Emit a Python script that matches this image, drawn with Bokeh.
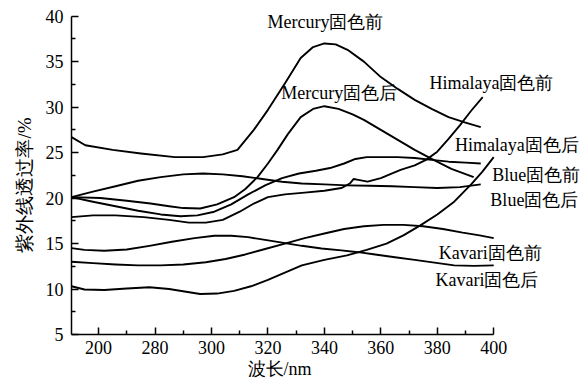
from bokeh.plotting import figure
from bokeh.models import Range1d, FixedTicker, Label, Title
from bokeh.embed import file_html
from bokeh.resources import INLINE

# ---------------- data ----------------
mercury_before_x = [250.4, 255.3, 265, 275, 287, 297, 304, 309.2, 315, 320, 326, 331.6, 336, 340, 344, 348.2,
                    354, 360, 366, 372, 378, 384, 390, 395.4]
mercury_before_y = [26.7, 25.8, 25.3, 24.9, 24.5, 24.5, 24.8, 25.3, 27.5, 29.7, 32.6, 35.4, 36.6, 37.0, 36.9, 36.3,
                    35.0, 33.3, 32.0, 30.8, 29.8, 28.9, 28.3, 27.8]

mercury_after_x = [250.4, 260.6, 270, 278.4, 285, 290, 296, 302, 308, 312, 316.3, 320, 323.4, 327, 331.6, 336,
                   340, 345, 350, 354, 360, 366, 372, 378, 385, 392.9]
mercury_after_y = [20.1, 20.0, 19.7, 19.4, 19.1, 18.9, 18.85, 19.3, 20.1, 21.0, 22.3, 23.8, 25.3, 27.0, 28.9, 29.8,
                   30.1, 29.8, 29.2, 28.6, 27.5, 26.4, 25.3, 24.3, 23.2, 22.3]

himalaya_before_x = [250.4, 258, 266, 276, 285, 292, 298, 304, 310, 315, 320, 326, 333, 340, 346, 349, 350.4,
                     352, 355.3, 360, 367, 372, 376, 380, 384, 388, 392, 396.1]
himalaya_before_y = [17.9, 18.1, 18.1, 17.9, 17.6, 17.3, 17.3, 17.6, 18.5, 19.4, 20.1, 20.4, 20.6, 20.8, 21.1,
                     21.6, 22.1, 22.0, 21.8, 22.2, 23.1, 23.6, 24.2, 25.1, 26.5, 28.0, 29.6, 31.1]

himalaya_after_x = [250.4, 255, 262, 270, 278, 285, 291, 296, 302, 308, 314, 320, 326, 332, 340, 348, 355, 362,
                    368, 374, 380, 386, 392, 396, 400]
himalaya_after_y = [10.3, 9.95, 9.9, 10.05, 10.2, 10.0, 9.7, 9.45, 9.5, 9.8, 10.3, 11.0, 11.8, 12.6, 13.2, 13.7,
                    14.3, 15.0, 15.9, 17.0, 18.2, 19.6, 21.5, 22.9, 24.5]

blue_before_x = [250.4, 258, 266, 274, 282, 289, 295, 301, 307, 313, 319, 325, 331, 337, 342, 347, 351, 355, 360,
                 366, 372, 378, 384, 390, 395.4]
blue_before_y = [20.1, 19.6, 19.1, 18.6, 18.2, 18.0, 18.1, 18.5, 19.3, 20.4, 21.4, 22.2, 22.7, 23.0, 23.3, 23.8,
                 24.3, 24.5, 24.5, 24.5, 24.4, 24.2, 24.0, 23.9, 23.8]

blue_after_x = [250.4, 258, 266, 274, 282, 290, 297, 304, 311, 318, 325, 332, 340, 348, 356, 364, 372, 380, 388,
                395.4]
blue_after_y = [20.1, 20.7, 21.3, 21.9, 22.3, 22.6, 22.7, 22.6, 22.4, 22.1, 21.8, 21.6, 21.5, 21.4, 21.35, 21.3,
                21.2, 21.1, 21.2, 21.5]

kavari_before_x = [250.4, 258, 266, 274, 282, 290, 298, 305, 312, 319, 326, 333, 340, 347, 354, 361, 368, 375,
                   382, 389, 395, 400]
kavari_before_y = [13.0, 12.85, 12.7, 12.6, 12.6, 12.7, 12.95, 13.3, 13.8, 14.4, 15.0, 15.6, 16.1, 16.6, 16.9,
                   17.05, 17.05, 16.9, 16.6, 16.2, 15.9, 15.6]

kavari_after_x = [250.4, 255, 262, 270, 278, 286, 294, 301, 307, 313, 319, 325, 332, 339, 346, 352, 358, 365, 372,
                  379, 386, 393, 400]
kavari_after_y = [14.5, 14.3, 14.2, 14.35, 14.75, 15.2, 15.6, 15.85, 15.85, 15.7, 15.4, 15.1, 14.75, 14.45, 14.25,
                  14.05, 13.8, 13.5, 13.2, 12.9, 12.6, 12.55, 12.6]

series_names = ["Mercury固色前", "Mercury固色后", "Himalaya固色前", "Himalaya固色后",
                "Blue固色前", "Blue固色后", "Kavari固色前", "Kavari固色后"]

x_tick_values = [260, 280, 300, 320, 340, 360, 380, 400]
x_tick_labels = ["200", "280", "300", "320", "340", "360", "380", "400"]
x_minor_ticks = [270, 290, 310, 330, 350, 370, 390]
y_tick_values = [5, 10, 15, 20, 25, 30, 35, 40]
y_minor_ticks = [7.5, 12.5, 17.5, 22.5, 27.5, 32.5, 37.5]

x_title = "波长/nm"
y_title = "紫外线透过率/%"

# label anchor positions (data coords), same order as series_names
label_x = [340.4, 345.3, 399.2, 408.2, 415.1, 414.4, 398.8, 397.6]
label_y = [39.36, 31.56, 32.66, 25.85, 22.55, 19.75, 13.99, 11.02]

# ---------------- plot ----------------
FONT = "Liberation Serif"

# frame extends right/up past the axes so annotation texts are not clipped;
# the axes themselves are limited with bounds
p = figure(width=581, height=381, output_backend="svg", toolbar_location=None,
           x_range=Range1d(250.4, 431.1), y_range=Range1d(5, 41.72),
           min_border_left=71, min_border_right=0, min_border_top=0, min_border_bottom=47)
p.outline_line_color = None
p.grid.visible = False
p.background_fill_color = "white"
p.border_fill_color = "white"

series = [
    (mercury_before_x, mercury_before_y),
    (mercury_after_x, mercury_after_y),
    (himalaya_before_x, himalaya_before_y),
    (himalaya_after_x, himalaya_after_y),
    (blue_before_x, blue_before_y),
    (blue_after_x, blue_after_y),
    (kavari_before_x, kavari_before_y),
    (kavari_after_x, kavari_after_y),
]
for xs, ys in series:
    p.line(xs, ys, line_color="black", line_width=1.9, line_join="round")

# axes
p.xaxis.ticker = FixedTicker(ticks=x_tick_values, minor_ticks=x_minor_ticks)
p.xaxis.major_label_overrides = {v: l for v, l in zip(x_tick_values, x_tick_labels)}
p.xaxis.bounds = (250.4, 400)
p.yaxis.ticker = FixedTicker(ticks=y_tick_values, minor_ticks=y_minor_ticks)
p.yaxis.bounds = (5, 40)

for ax in (p.xaxis, p.yaxis):
    ax.axis_line_color = "black"
    ax.axis_line_width = 1.5
    ax.major_tick_line_color = "black"
    ax.minor_tick_line_color = "black"
    ax.major_tick_line_width = 1.5
    ax.minor_tick_line_width = 1.5
    ax.major_tick_out = 0
    ax.minor_tick_out = 0
    ax.major_tick_in = 7
    ax.minor_tick_in = 4
    ax.major_label_text_font = FONT
    ax.major_label_text_font_size = "18px"
    ax.major_label_text_color = "black"

p.xaxis.major_label_standoff = 6
p.yaxis.major_label_standoff = 8

# axis titles as side titles (so they can be positioned like the reference)
p.add_layout(Title(text=y_title, align="left", offset=82, standoff=16,
                   text_font=FONT, text_font_size="19px", text_font_style="normal",
                   text_color="black"), "left")
p.add_layout(Title(text=x_title, align="left", offset=176, standoff=0,
                   text_font=FONT, text_font_size="18px", text_font_style="normal",
                   text_color="black"), "below")

for name, lx, ly in zip(series_names, label_x, label_y):
    p.add_layout(Label(x=lx, y=ly, text=name, text_font=FONT, text_font_size="18px",
                       text_align="center", text_baseline="middle", text_color="black"))

open("out.html", "w").write(file_html(p, INLINE))
